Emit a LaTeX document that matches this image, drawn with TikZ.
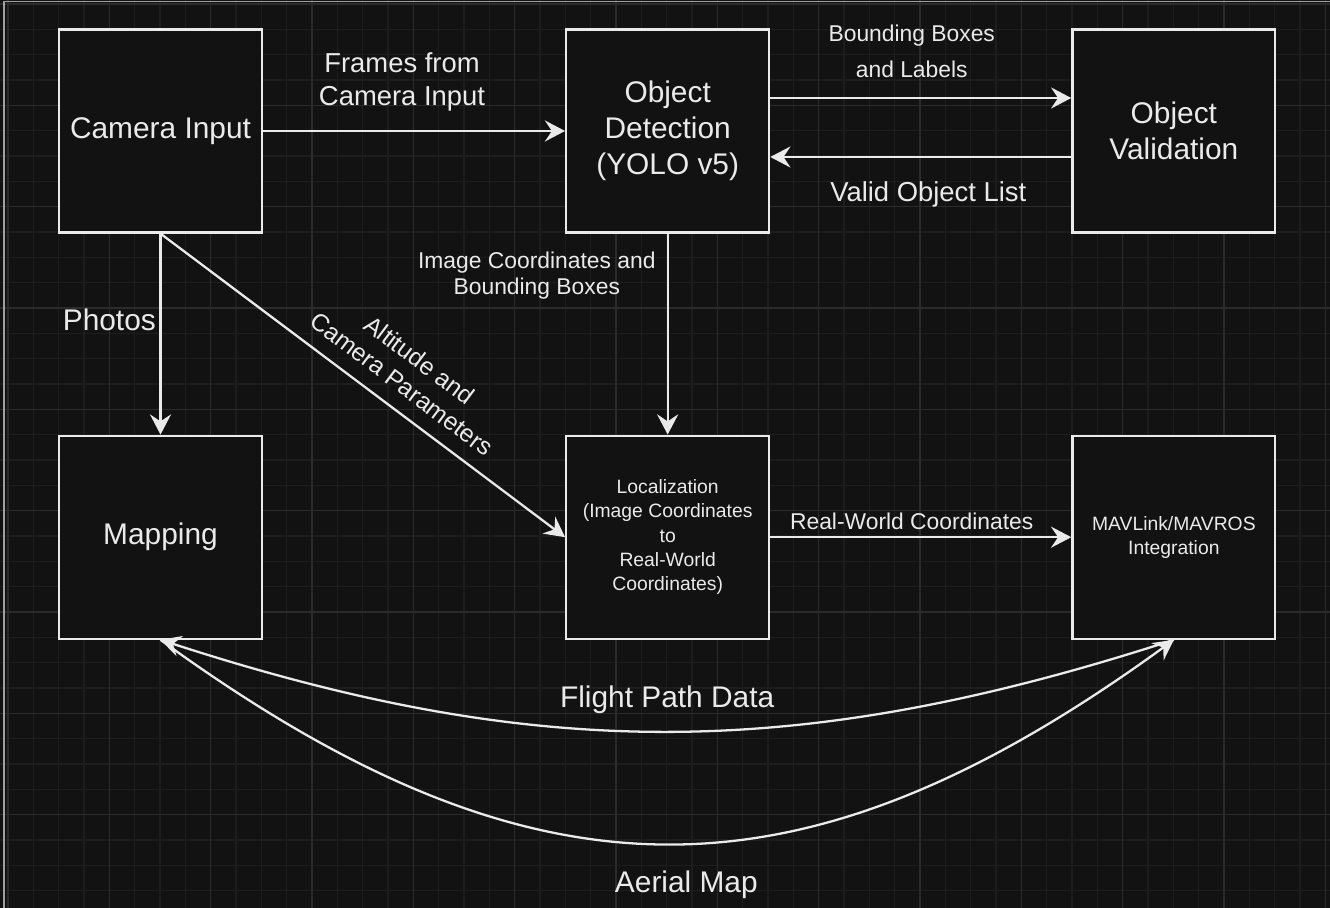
\documentclass[tikz,border=0pt]{standalone}
\usepackage{fontspec}
\setmainfont{Liberation Sans}
\usetikzlibrary{positioning,arrows.meta}

\definecolor{bgdark}{HTML}{121212}
\definecolor{gridminor}{HTML}{1D1D1D}
\definecolor{gridmajor}{HTML}{2B2B2B}
\definecolor{inkwhite}{HTML}{EAEAEA}

\tikzset{
  box/.style={draw=inkwhite, fill=bgdark, line width=1.3pt, minimum size=4.06cm,
    inner sep=2pt, align=center, text=inkwhite, font=\fontsize{17}{20.4}\selectfont},
  smallbox/.style={box, font=\fontsize{11}{13.8}\selectfont},
  flow/.style={draw=inkwhite, line width=1.3pt,
    -{Stealth[length=11.5pt, width=12pt, inset=4pt]}},
  lbl/.style={text=inkwhite, align=center, inner sep=2pt, font=\fontsize{15.6}{18.7}\selectfont},
  lblbig/.style={lbl, font=\fontsize{17}{20.4}\selectfont},
  lblmid/.style={lbl, font=\fontsize{14}{17}\selectfont},
  lblsmall/.style={lbl, font=\fontsize{13}{14.7}\selectfont}
}

\begin{document}
\begin{tikzpicture}[x=0.02cm, y=-0.02cm]
  \useasboundingbox (0,0) rectangle (1330,908);
  \fill[bgdark] (0,0) rectangle (1330,908);
  % grid
  \foreach \i in {0,...,52}
    \draw[gridminor, line width=0.6pt] ({8+25.333*\i},0) -- ++(0,908);
  \foreach \i in {0,...,35}
    \draw[gridminor, line width=0.6pt] (0,{4+25.333*\i}) -- ++(1330,0);
  \foreach \i in {0,...,13}
    \draw[gridmajor, line width=0.7pt] ({8+101.333*\i},0) -- ++(0,908);
  \foreach \i in {0,...,8}
    \draw[gridmajor, line width=0.7pt] (0,{4+101.333*\i}) -- ++(1330,0);
  \draw[gray!75, line width=0.9pt] (4,908) -- (4,1.5) -- (1330,1.5);

  \node[box] (cam) at (160.5,131) {Camera Input};
  \node[box, right=6.04cm of cam] (det) {Object\\Detection\\(YOLO v5)};
  \node[box, right=6.02cm of det] (val) {Object\\Validation};
  \node[box, below=4.02cm of cam] (map) {Mapping};
  \node[smallbox, below=4.02cm of det]
  (loc) {Localization\\(Image Coordinates\\to\\Real-World\\Coordinates)};
  \node[smallbox, below=4.02cm of val] (mav) {MAVLink/MAVROS\\Integration};

  \draw[flow] (cam) -- node[lbl, above=0.31cm, pos=0.46] (frames) {Frames from\\Camera Input} (det);
  \draw[flow] ([yshift=0.66cm]det.east) -- node[lblsmall, font=\fontsize{13}{20.4}\selectfont,
    above=0.31cm, pos=0.47] (boxes) {Bounding Boxes\\and Labels} ([yshift=0.66cm]val.west);
  \draw[flow] ([yshift=-0.52cm]val.west) -- node[lbl, below=0.4cm, pos=0.475]
  (valid) {Valid Object List} ([yshift=-0.52cm]det.east);
  \draw[flow] (det) -- node[lblsmall, left=0.15cm, pos=0.21]
  (imgco) {Image Coordinates and\\Bounding Boxes} (loc);
  \draw[flow] (cam) -- node[lblbig, left=0pt, pos=0.43] (photos) {Photos} (map);
  \draw[flow] (cam.south) -- node[lblmid, sloped, above=0.22cm, pos=0.56]
  (alt) {Altitude and\\Camera Parameters} (loc.west);
  \draw[flow] (loc) -- node[lblsmall, above=0.05cm, pos=0.47] (realw) {Real-World Coordinates} (mav);

  \draw[flow] (mav.south) to[bend left=18]
  node[lblbig, above=0.27cm, pos=0.5] (flight) {Flight Path Data} (map.south);
  \draw[flow] (map.south) to[bend right=36, looseness=1.17]
  node[lblbig, below=0.45cm, pos=0.52] (aerial) {Aerial Map} (mav.south);
\end{tikzpicture}
\end{document}
